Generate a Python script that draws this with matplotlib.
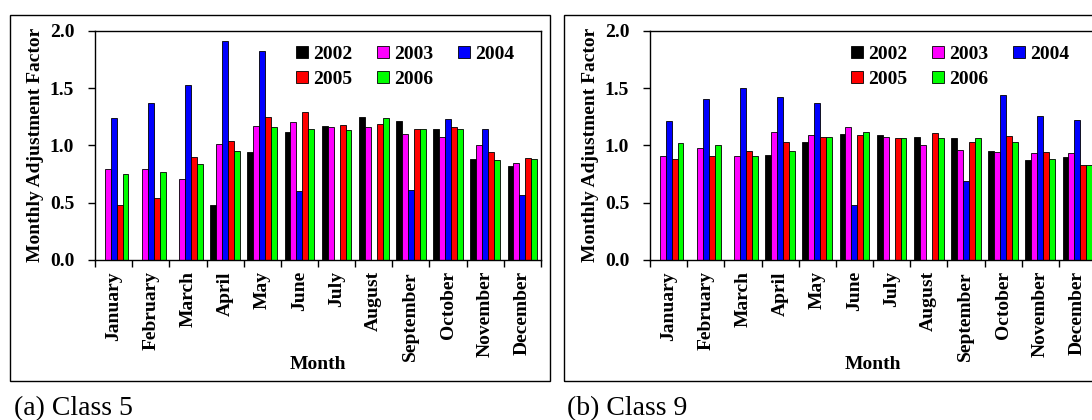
import numpy as np
import matplotlib
matplotlib.use("Agg")
import matplotlib.pyplot as plt
from matplotlib.patches import Rectangle

# Times-like bold serif everywhere
plt.rcParams['font.family'] = ['Liberation Serif', 'DejaVu Serif']
plt.rcParams['font.weight'] = 'bold'
plt.rcParams['axes.labelweight'] = 'bold'
plt.rcParams['font.size'] = 14

MONTHS = ["January", "February", "March", "April", "May", "June", "July",
          "August", "September", "October", "November", "December"]
YEARS = ["2002", "2003", "2004", "2005", "2006"]
COLORS = ["#000000", "#ff00ff", "#0000ff", "#ff0000", "#00ff00"]

nan = np.nan

# Class 5 monthly adjustment factors, one list per year
C5_2002 = [nan, nan, nan, 0.48, 0.94, 1.12, 1.17, 1.25, 1.21, 1.14, 0.88, 0.82]
C5_2003 = [0.79, 0.79, 0.71, 1.01, 1.17, 1.20, 1.16, 1.16, 1.10, 1.07, 1.00, 0.85]
C5_2004 = [1.24, 1.37, 1.53, 1.91, 1.82, 0.60, nan, nan, 0.61, 1.23, 1.14, 0.57]
C5_2005 = [0.48, 0.54, 0.90, 1.04, 1.25, 1.29, 1.18, 1.19, 1.14, 1.16, 0.94, 0.89]
C5_2006 = [0.75, 0.77, 0.84, 0.95, 1.16, 1.14, 1.13, 1.24, 1.14, 1.14, 0.87, 0.88]

# Class 9 monthly adjustment factors
C9_2002 = [nan, nan, nan, 0.92, 1.03, 1.10, 1.09, 1.07, 1.06, 0.95, 0.87, 0.90]
C9_2003 = [0.91, 0.98, 0.91, 1.12, 1.09, 1.16, 1.07, 1.00, 0.96, 0.94, 0.93, 0.93]
C9_2004 = [1.21, 1.40, 1.50, 1.42, 1.37, 0.48, nan, nan, 0.69, 1.44, 1.26, 1.22]
C9_2005 = [0.88, 0.91, 0.95, 1.03, 1.07, 1.09, 1.06, 1.11, 1.03, 1.08, 0.94, 0.83]
C9_2006 = [1.02, 1.00, 0.91, 0.95, 1.07, 1.12, 1.06, 1.06, 1.06, 1.03, 0.88, 0.83]

BAR_W = 0.16


def draw_panel(ax, series):
    x = np.arange(len(MONTHS))
    handles = []
    for i, (vals, color, year) in enumerate(zip(series, COLORS, YEARS)):
        offs = (i - 2) * BAR_W
        h = ax.bar(x + offs, vals, BAR_W, color=color, edgecolor='black',
                   linewidth=0.6, label=year)
        handles.append(h)

    ax.set_xlim(-0.5, len(MONTHS) - 0.5)
    ax.set_ylim(0, 2.0)
    ax.set_yticks(np.arange(0, 2.01, 0.5))
    ax.set_yticklabels([f"{v:.1f}" for v in np.arange(0, 2.01, 0.5)])

    # labels centred on months, tick marks on the boundaries
    ax.set_xticks(x)
    ax.set_xticklabels(MONTHS, rotation=90, va='top', ha='center')
    ax.set_xticks(np.arange(-0.5, len(MONTHS)), minor=True)
    ax.tick_params(axis='x', which='major', length=0, pad=8)
    ax.tick_params(axis='x', which='minor', length=5, direction='out', width=1)
    ax.tick_params(axis='y', length=5, direction='out', width=1, pad=10)

    for sp in ax.spines.values():
        sp.set_linewidth(1)

    ax.set_ylabel("Monthly Adjustment Factor")
    ax.yaxis.set_label_coords(-0.114, 0.5)
    ax.set_xlabel("Month")
    ax.xaxis.set_label_coords(0.5, -0.42)

    # row-wise legend: 2002 2003 2004 / 2005 2006
    order = [0, 3, 1, 4, 2]
    ax.legend([handles[k] for k in order], [YEARS[k] for k in order],
              ncol=3, loc='upper left', bbox_to_anchor=(0.451, 0.935),
              frameon=False, borderpad=0, borderaxespad=0,
              handlelength=0.62, handleheight=0.6, handletextpad=0.26,
              columnspacing=1.26, labelspacing=0.42)


fig = plt.figure(figsize=(10.92, 4.2), dpi=100)

W, H = 1092.0, 420.0
ax_a = fig.add_axes([95 / W, (H - 260) / H, 446 / W, 229.3 / H])
ax_b = fig.add_axes([650 / W, (H - 260) / H, 446 / W, 229.3 / H])

draw_panel(ax_a, [C5_2002, C5_2003, C5_2004, C5_2005, C5_2006])
draw_panel(ax_b, [C9_2002, C9_2003, C9_2004, C9_2005, C9_2006])

# frames around each panel
for x0, x1 in [(10, 550), (563.5, 1110)]:
    fig.add_artist(Rectangle((x0 / W, (H - 380.7) / H), (x1 - x0) / W,
                             (380.7 - 15) / H, transform=fig.transFigure,
                             fill=False, edgecolor='black', linewidth=1))

fig.text(14 / W, 5 / H, "(a) Class 5", fontsize=20, fontweight='normal',
         ha='left', va='baseline')
fig.text(567 / W, 5 / H, "(b) Class 9", fontsize=20, fontweight='normal',
         ha='left', va='baseline')

fig.savefig("out.png", dpi=100)
